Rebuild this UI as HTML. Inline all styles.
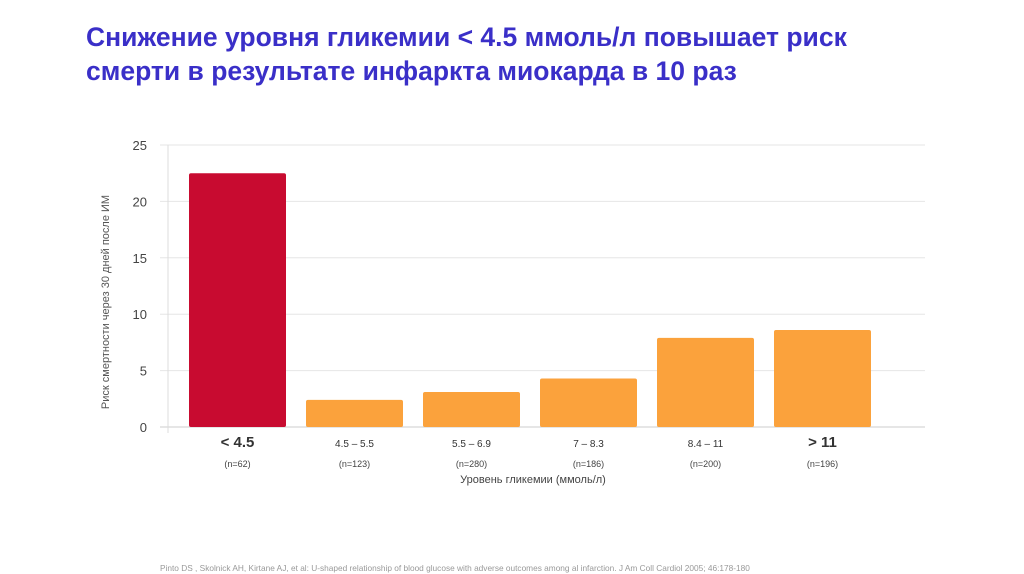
<!DOCTYPE html>
<html><head><meta charset="utf-8"><style>
body{margin:0;width:1024px;height:574px;background:#fff;overflow:hidden;font-family:"Liberation Sans",sans-serif}
#title{position:absolute;left:86px;top:20px;font-size:26.5px;font-weight:bold;color:#3a2fc8;line-height:34px;margin:0;white-space:nowrap}
#ref{position:absolute;left:160px;top:563px;font-size:8.3px;color:#999;white-space:nowrap}
</style></head><body>
<h1 id="title">Снижение уровня гликемии &lt; 4.5 ммоль/л повышает риск<br>смерти в результате инфаркта миокарда в 10 раз</h1>
<svg id="chart" width="1024" height="574" style="position:absolute;left:0;top:0"></svg>
<div id="ref">Pinto DS , Skolnick AH, Kirtane AJ, et al: U-shaped relationship of blood glucose with adverse outcomes among al infarction. J Am Coll Cardiol 2005; 46:178-180</div>
<script>
const categories=["< 4.5","4.5 – 5.5","5.5 – 6.9","7 – 8.3","8.4 – 11","> 11"];
const counts=["(n=62)","(n=123)","(n=280)","(n=186)","(n=200)","(n=196)"];
const values=[22.5,2.4,3.1,4.3,7.9,8.6];
const yTicks=[0,5,10,15,20,25];
const ns="http://www.w3.org/2000/svg";
const svg=document.getElementById('chart');
const y0=427,yTop=145,yMax=25,left=168,right=925,slot0=179,slotW=117,pad=10;
const y=v=>y0-(v/yMax)*(y0-yTop);
const x=i=>slot0+i*slotW;
function mk(t,a,txt){const e=document.createElementNS(ns,t);for(const k in a)e.setAttribute(k,a[k]);if(txt!=null)e.textContent=txt;svg.appendChild(e);return e;}
yTicks.forEach(t=>{
 const l=mk('line',{x1:left-8,x2:right,y1:y(t),y2:y(t),stroke:t===0?'#ccc':'#e6e6e6','stroke-width':1});
 
 
 const tx=mk('text',{x:147,y:y(t)+5,'text-anchor':'end','font-size':13,fill:'#444'},String(t));
 
 
});
const ax=mk('line',{x1:left,x2:left,y1:yTop,y2:y0+6,stroke:'#ddd'});


values.forEach((v,i)=>{
 const r=mk('rect',{x:x(i)+pad,y:y(v),width:slotW-2*pad,height:y0-y(v),rx:2,fill:i===0?'#c80b30':'#fba23c'});
 
 
 const c=x(i)+slotW/2;
 const big=(i===0||i===5);
 const t=mk('text',{x:c,y:447,'text-anchor':'middle','font-size':big?15:10,fill:'#333','font-weight':big?'bold':'normal'},categories[i]);
 
 
 const n=mk('text',{x:c,y:467,'text-anchor':'middle','font-size':9,fill:'#444'},counts[i]);
 
 
});
const xt=mk('text',{x:533,y:483,'text-anchor':'middle','font-size':11,fill:'#444'},'Уровень гликемии (ммоль/л)');


const yt=mk('text',{x:0,y:0,'text-anchor':'middle','font-size':11,fill:'#555',transform:'translate(109,302) rotate(-90)'},'Риск смертности через 30 дней после ИМ');


</script>
</body></html>
